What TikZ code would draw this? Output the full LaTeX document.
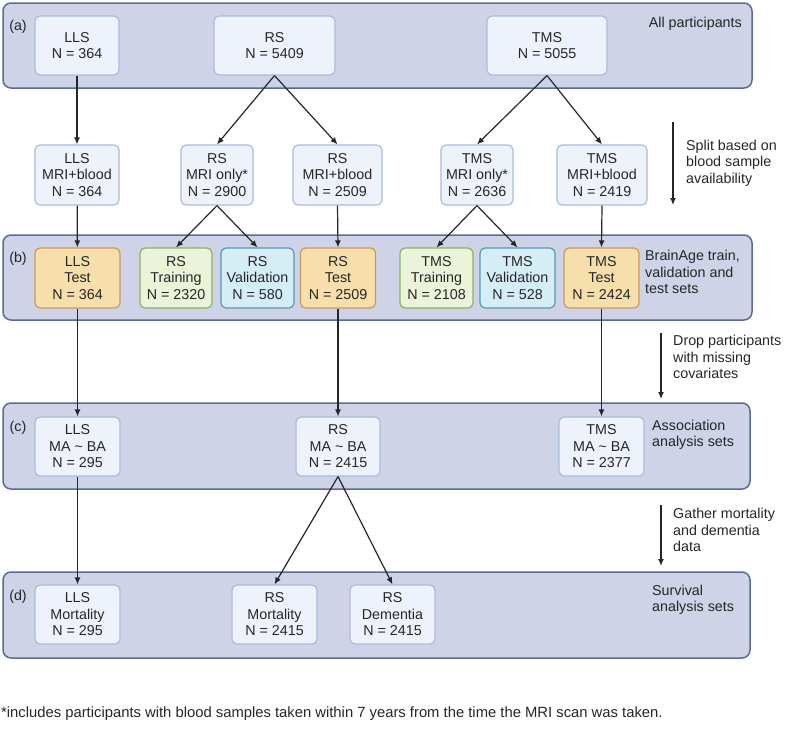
\documentclass[tikz,border=0pt]{standalone}
\usepackage{fontspec}
\setmainfont{Liberation Sans}
\usepackage{tikz}
\usetikzlibrary{arrows.meta,positioning}
\definecolor{panelfill}{HTML}{CED3E7}
\definecolor{paneldraw}{HTML}{5C6A96}
\definecolor{boxfill}{HTML}{EEF3FB}
\definecolor{boxdraw}{HTML}{A9BCDF}
\definecolor{testfill}{HTML}{F6DFAA}
\definecolor{testdraw}{HTML}{C99A5B}
\definecolor{trainfill}{HTML}{EBF4D8}
\definecolor{traindraw}{HTML}{8DB163}
\definecolor{valfill}{HTML}{D5EEF6}
\definecolor{valdraw}{HTML}{5898AF}
\definecolor{ink}{HTML}{262626}

\begin{document}
\begin{tikzpicture}[x=1pt,y=-1pt,every node/.style={font=\fontsize{14.3}{16.5}\selectfont,text=ink,align=center},
  box/.style={draw=boxdraw,fill=boxfill,line width=1.2pt,rounded corners=5pt,minimum height=59pt,inner sep=0pt},
  testbox/.style={box,draw=testdraw,fill=testfill},
  trainbox/.style={box,draw=traindraw,fill=trainfill},
  valbox/.style={box,draw=valdraw,fill=valfill},
  panel/.style={draw=paneldraw,fill=panelfill,line width=1.5pt,rounded corners=8pt},
  sidelab/.style={anchor=west,align=left,inner sep=0pt},
  arr/.style={-{Latex[length=7pt,width=6pt]},line width=1.2pt,draw=ink}]
  \useasboundingbox (0,0) rectangle (786,739);

  % Panels
  \draw[panel] (3,3) rectangle (752,88);
  \draw[panel] (3,235) rectangle (752,320);
  \draw[panel] (3,403) rectangle (750,489);
  \draw[panel] (3,572) rectangle (750,658);
  \node (lab_a) at (18,27) {(a)};
  \node (lab_b) at (18,259) {(b)};
  \node (lab_c) at (18,428) {(c)};
  \node (lab_d) at (18,597) {(d)};

  % (a) All participants
  \node[box,minimum width=84pt] (lls_a) at (77,45.5) {LLS\\N = 364};
  \node[box,minimum width=121pt] (rs_a) at (274.5,45.5) {RS\\N = 5409};
  \node[box,minimum width=120pt] (tms_a) at (547,45.5) {TMS\\N = 5055};
  \node[anchor=east,inner sep=0pt] (all_lab) at (742,24) {All participants};

  % Split by blood samples
  \node[box,minimum width=84pt,minimum height=60pt] (lls_m) at (77,175) {LLS\\MRI+blood\\N = 364};
  \node[box,minimum width=72pt,minimum height=60pt] (rs_only) at (217,175) {RS\\MRI only*\\N = 2900};
  \node[box,minimum width=89pt,minimum height=60pt] (rs_blood) at (337.5,175) {RS\\MRI+blood\\N = 2509};
  \node[box,minimum width=72pt,minimum height=60pt] (tms_only) at (477,175) {TMS\\MRI only*\\N = 2636};
  \node[box,minimum width=90pt,minimum height=60pt] (tms_blood) at (602,175) {TMS\\MRI+blood\\N = 2419};
  \draw[arr] (lls_a) -- (lls_m);
  \draw[arr] (rs_a.south) -- (rs_only.north);
  \draw[arr] (rs_a.south) -- (rs_blood.north);
  \draw[arr] (tms_a.south) -- (tms_only.north);
  \draw[arr] (tms_a.south) -- (tms_blood.north);
  \coordinate (s1top) at (673,122);
  \coordinate (s1bot) at (673,205);
  \draw[arr] (s1top) -- (s1bot);
  \node[sidelab] (split_lab) at (686,163) {Split based on\\blood sample\\availability};

  % (b) BrainAge sets
  \node[testbox,minimum width=85pt,minimum height=60pt] (lls_test) at (77.5,278) {LLS\\Test\\N = 364};
  \node[trainbox,minimum width=72pt,minimum height=60pt] (rs_train) at (176,278) {RS\\Training\\N = 2320};
  \node[valbox,minimum width=73pt,minimum height=60pt] (rs_val) at (257.5,278) {RS\\Validation\\N = 580};
  \node[testbox,minimum width=75pt,minimum height=60pt] (rs_test) at (338,278) {RS\\Test\\N = 2509};
  \node[trainbox,minimum width=73pt,minimum height=60pt] (tms_train) at (436.5,278) {TMS\\Training\\N = 2108};
  \node[valbox,minimum width=75pt,minimum height=60pt] (tms_val) at (517.5,278) {TMS\\Validation\\N = 528};
  \node[testbox,minimum width=75pt,minimum height=60pt] (tms_test) at (601.5,278) {TMS\\Test\\N = 2424};
  \node[sidelab] (brain_lab) at (645,272) {BrainAge train,\\validation and\\test sets};
  \draw[arr] (lls_m) -- (lls_test);
  \draw[arr] (rs_only.south) -- (rs_train.north);
  \draw[arr] (rs_only.south) -- (rs_val.north);
  \draw[arr] (rs_blood.south) -- (rs_test.north);
  \draw[arr] (tms_only.south) -- (tms_train.north);
  \draw[arr] (tms_only.south) -- (tms_val.north);
  \draw[arr] (tms_blood.south) -- (tms_test.north);

  % (c) Association analysis sets
  \node[box,minimum width=85pt] (lls_c) at (77.5,446.5) {LLS\\MA \textasciitilde{} BA\\N = 295};
  \node[box,minimum width=84pt] (rs_c) at (338,446.5) {RS\\MA \textasciitilde{} BA\\N = 2415};
  \node[box,minimum width=85pt] (tms_c) at (601.5,446.5) {TMS\\MA \textasciitilde{} BA\\N = 2377};
  \node[sidelab] (assoc_lab) at (652,435) {Association\\analysis sets};
  \draw[arr] (lls_test) -- (lls_c);
  \draw[arr] (rs_test) -- (rs_c);
  \draw[arr] (tms_test) -- (tms_c);
  \coordinate (s2top) at (661,333);
  \coordinate (s2bot) at (661,399);
  \draw[arr] (s2top) -- (s2bot);
  \node[sidelab] (drop_lab) at (673,357) {Drop participants\\with missing\\covariates};

  % (d) Survival analysis sets
  \node[box,minimum width=85pt] (lls_d) at (77.5,614.5) {LLS\\Mortality\\N = 295};
  \node[box,minimum width=85pt] (rs_mort) at (274.5,614.5) {RS\\Mortality\\N = 2415};
  \node[box,minimum width=85pt] (rs_dem) at (392.5,614.5) {RS\\Dementia\\N = 2415};
  \node[sidelab] (surv_lab) at (652,600) {Survival\\analysis sets};
  \draw[arr] (lls_c) -- (lls_d);
  \draw[arr] (rs_c.south) -- (rs_mort.north);
  \draw[arr] (rs_c.south) -- (rs_dem.north);
  \coordinate (s3top) at (661,505);
  \coordinate (s3bot) at (661,566);
  \draw[arr] (s3top) -- (s3bot);
  \node[sidelab] (gather_lab) at (673,530) {Gather mortality\\and dementia\\data};

  % Footnote
  \node[sidelab,font=\fontsize{14.8}{17}\selectfont] (note) at (1,714) {*includes participants with blood samples taken within 7 years from the time the MRI scan was taken.};
\end{tikzpicture}
\end{document}
